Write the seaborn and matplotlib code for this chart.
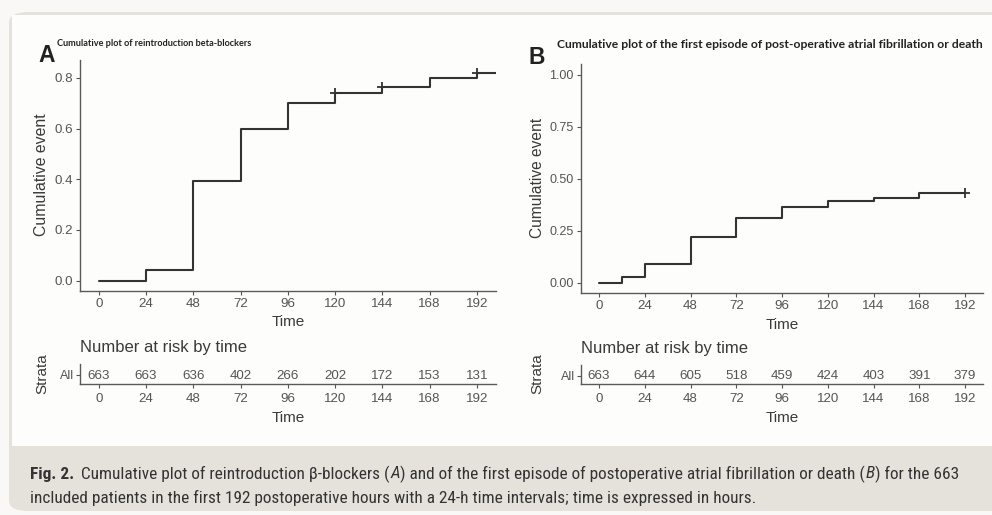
import numpy as np
import pandas as pd
import matplotlib
matplotlib.use('Agg')
import matplotlib.pyplot as plt
from matplotlib.patches import FancyBboxPatch, Rectangle
import seaborn as sns

# values
times_a = [0, 24, 48, 72, 96, 120, 144, 168, 192, 202]
cum_a = [0.0, 0.04, 0.395, 0.60, 0.70, 0.74, 0.765, 0.80, 0.82, 0.82]
cens_t_a = [120, 144, 192]
cens_y_a = [0.74, 0.765, 0.82]

times_b = [0, 12, 24, 48, 72, 96, 120, 144, 168, 192]
cum_b = [0.0, 0.03, 0.09, 0.22, 0.31, 0.365, 0.395, 0.41, 0.43, 0.43]
cens_t_b = [192]
cens_y_b = [0.43]

risk_times = [0, 24, 48, 72, 96, 120, 144, 168, 192]
risk_a = [663, 663, 636, 402, 266, 202, 172, 153, 131]
risk_b = [663, 644, 605, 518, 459, 424, 403, 391, 379]

title_a = 'Cumulative plot of reintroduction beta-blockers'
title_b = 'Cumulative plot of the first episode of post-operative atrial fibrillation or death'

sns.set_theme(style='ticks')
plt.rcParams['font.family'] = ['Liberation Sans', 'DejaVu Sans']

W, H = 992, 515
fig = plt.figure(figsize=(W / 100, H / 100), dpi=100)
fig.patch.set_facecolor('#f9f8f6')

def box(l, t, r, b):
    return [l / W, 1 - b / H, (r - l) / W, (b - t) / H]

# card background
fig.patches.append(FancyBboxPatch((9 / W, 1 - 511 / H), 1.05, (511 - 12) / H,
                                  boxstyle='round,pad=0,rounding_size=0.02',
                                  transform=fig.transFigure, facecolor='#e5e2dc',
                                  edgecolor='none', zorder=-5))
fig.patches.append(Rectangle((12 / W, 1 - 446 / H), 1.05, (446 - 15) / H,
                             transform=fig.transFigure, facecolor='#fdfdfc',
                             edgecolor='none', zorder=-4))

LINE = '#333333'
TICK = '#555555'
LAB = '#3a3a3a'
XLIM = (-9.6, 201.6)


def style_axis(ax):
    sns.despine(ax=ax)
    for s in ['left', 'bottom']:
        ax.spines[s].set_color('#5a5a5a')
        ax.spines[s].set_linewidth(1.0)
    ax.tick_params(colors=TICK, length=3, width=0.8, labelcolor=TICK)
    ax.set_facecolor('none')


def km_panel(rect, times, cum, ct, cy, yticks, yfmt, ylim, ysize):
    ax = fig.add_axes(rect)
    df = pd.DataFrame({'time': times, 'cum': cum})
    sns.lineplot(data=df, x='time', y='cum', drawstyle='steps-post', color=LINE,
                 linewidth=1.5, errorbar=None, ax=ax)
    sns.scatterplot(x=ct, y=cy, marker='+', s=45, color=LINE, linewidth=1.3, ax=ax)
    ax.set_xlim(*XLIM)
    ax.set_ylim(*ylim)
    ax.set_xticks(risk_times)
    ax.set_yticks(yticks)
    ax.set_yticklabels([yfmt.format(v) for v in yticks])
    style_axis(ax)
    ax.tick_params(axis='x', labelsize=9.6, pad=2)
    ax.tick_params(axis='y', labelsize=ysize, pad=2)
    ax.set_xlabel('Time', fontsize=11, color=LAB, labelpad=4)
    ax.set_ylabel('')
    return ax


def risk_panel(rect, risk):
    ax = fig.add_axes(rect)
    ax.set_xlim(*XLIM)
    ax.set_ylim(0, 1)
    for t, n in zip(risk_times, risk):
        ax.text(t, 0.4, str(n), ha='center', va='center', fontsize=9.6, color=TICK)
    ax.set_xticks(risk_times)
    ax.set_yticks([0.44])
    ax.set_yticklabels(['All'])
    style_axis(ax)
    ax.tick_params(axis='x', labelsize=9.6, pad=3.5)
    ax.tick_params(axis='y', labelsize=9, pad=1)
    ax.set_xlabel('Time', fontsize=11, color=LAB, labelpad=4.5)
    ax.text(0, 1.85, 'Number at risk by time', transform=ax.transAxes, ha='left',
            va='center', fontsize=12, color=LAB)
    return ax


# panel A
km_panel(box(79.8, 60, 495.9, 291), times_a, cum_a, cens_t_a, cens_y_a,
         [0, 0.2, 0.4, 0.6, 0.8], '{:.1f}', (-0.041, 0.871), 9.6)
risk_panel(box(79.8, 364, 495.9, 383.5), risk_a)
fig.text(42 / W, 1 - 175 / H, 'Cumulative event', rotation=90, ha='center', va='center',
         fontsize=11.4, color=LAB)
fig.text(42 / W, 1 - 374 / H, 'Strata', rotation=90, ha='center', va='center',
         fontsize=11, color=LAB)
fig.text(38 / W, 1 - 55 / H, 'A', fontsize=16.5, fontweight='bold', color='#222222',
         ha='left', va='center')
fig.text(57 / W, 1 - 44 / H, title_a, fontsize=6.6, fontweight='bold', color='#222222',
         ha='left', va='center', family=['Lato', 'DejaVu Sans'])

# panel B
km_panel(box(580.7, 64.3, 983.4, 293.3), times_b, cum_b, cens_t_b, cens_y_b,
         [0, 0.25, 0.5, 0.75, 1.0], '{:.2f}', (-0.05, 1.05), 9)
risk_panel(box(580.7, 365, 983.4, 384), risk_b)
fig.text(537 / W, 1 - 178 / H, 'Cumulative event', rotation=90, ha='center', va='center',
         fontsize=11.2, color=LAB)
fig.text(537 / W, 1 - 374 / H, 'Strata', rotation=90, ha='center', va='center',
         fontsize=11, color=LAB)
fig.text(528 / W, 1 - 57 / H, 'B', fontsize=16.5, fontweight='bold', color='#222222',
         ha='left', va='center')
fig.text(557 / W, 1 - 44 / H, title_b, fontsize=8.7, fontweight='bold', color='#222222',
         ha='left', va='center', family=['Lato', 'DejaVu Sans'])

# caption built from runs of differently styled text
CAP = ['Liberation Sans Narrow', 'Roboto Condensed', 'DejaVu Sans Condensed',
       'Liberation Sans', 'DejaVu Sans']
renderer = fig.canvas.get_renderer()


def runs(x, y, parts, size):
    made = []
    for s, weight, style, gap in parts:
        t = fig.text(x / W, 1 - y / H, s, fontsize=size, fontweight=weight, fontstyle=style,
                     color='#333333', ha='left', va='center', family=CAP)
        x += t.get_window_extent(renderer).width + gap
        made.append(t)
    return x, made


line1 = [
    ('Fig. 2.', 'bold', 'normal', 7),
    ('Cumulative plot of reintroduction \u03b2-blockers (', 'normal', 'normal', 0.5),
    ('A', 'normal', 'italic', 0.5),
    (') and of the first episode of postoperative atrial fibrillation or death (', 'normal', 'normal', 0.5),
    ('B', 'normal', 'italic', 0.5),
    (') for the 663', 'normal', 'normal', 0),
]
line2 = [
    ('included patients in the first 192 postoperative hours with a 24-h time intervals; '
     'time is expressed in hours.', 'normal', 'normal', 0),
]
# fit the first caption line to the width seen in the reference
end, tmp = runs(30, 473, line1, 11)
for t in tmp:
    t.remove()
size = 11 * (957 - 30) / (end - 30)
runs(30, 474, line1, size)
runs(30, 497.5, line2, size)

fig.savefig('out.png', dpi=100, facecolor=fig.get_facecolor())
